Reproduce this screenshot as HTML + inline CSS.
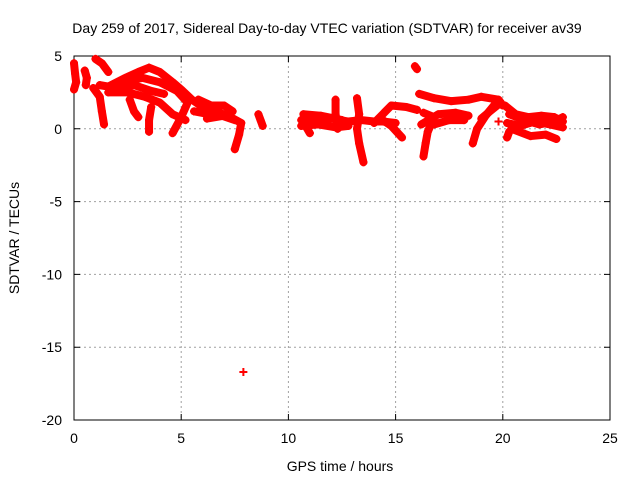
<!DOCTYPE html>
<html><head><meta charset="utf-8"><style>
body{margin:0;background:#fff;}
svg{display:block;font-family:"Liberation Sans",sans-serif;}
</style></head><body>
<svg id="chart" width="640" height="480" viewBox="0 0 640 480">
<text x="327" y="33" font-size="14" text-anchor="middle">Day 259 of 2017, Sidereal Day-to-day VTEC variation (SDTVAR) for receiver av39</text>
<g id="grid"></g>
<g id="axes"></g>
<g id="marks"></g>
<text x="340" y="471" font-size="14" text-anchor="middle">GPS time / hours</text>
<text transform="translate(19,238) rotate(-90)" font-size="14" text-anchor="middle">SDTVAR / TECUs</text>
</svg>
<script>
const xTicks=[0,5,10,15,20,25];
const yTicks=[5,0,-5,-10,-15,-20];
const tracks=[
[[0,4.5],[0.05,3.8],[0.1,3.2],[0,2.7]],
[[0.5,4.0],[0.6,3.5],[0.55,3.0]],
[[1.0,4.8],[1.3,4.5],[1.6,3.9]],
[[0.9,2.8],[1.2,2.2],[1.3,1.2],[1.4,0.3]],
[[1.6,2.9],[2.4,3.5],[3.0,3.9],[3.5,4.2],[4.0,3.9],[4.6,3.2],[5.0,2.7],[5.5,2.0],[6.2,1.3],[6.8,1.1],[7.3,0.8],[7.8,0.4],[7.7,-0.4],[7.5,-1.4]],
[[2.2,3.2],[3.2,3.5],[4.0,3.2],[4.8,2.6],[5.3,1.8],[5.0,0.8],[4.6,-0.3]],
[[1.6,2.5],[2.5,2.5],[3.3,2.2],[4.0,1.8],[4.6,1.0],[5.2,0.6]],
[[1.2,3.0],[2.0,2.8],[2.8,3.0],[3.6,2.6],[4.2,2.4]],
[[3.6,1.5],[3.5,0.6],[3.5,-0.2]],
[[2.6,2.0],[2.8,1.2],[3.0,0.8]],
[[5.8,2.0],[6.4,1.6],[7.0,1.6],[7.4,1.2],[7.0,0.9],[6.2,0.7]],
[[5.6,1.2],[6.3,1.0],[6.9,0.9],[7.5,0.6]],
[[8.6,1.0],[8.7,0.6],[8.8,0.2]],
[[7.9,-16.7]],
[[10.6,0.6],[11.2,0.5],[12.0,0.7],[12.8,0.5],[13.4,0.6],[14.0,0.5],[14.4,0.5],[15.0,0.4]],
[[10.7,1.0],[11.5,0.9],[12.5,0.6]],
[[10.6,0.2],[11.4,0.3],[12.2,0.1],[12.8,0.2]],
[[10.8,0.2],[11.0,-0.3]],
[[12.2,2.0],[12.2,1.0],[12.3,0.0]],
[[13.2,2.1],[13.3,1.0],[13.2,0],[13.3,-1.0],[13.5,-2.3]],
[[14.0,0.4],[14.4,1.0],[14.8,1.6],[15.5,1.5],[16.0,1.3]],
[[14.4,0.6],[14.8,0.2],[15.3,-0.6]],
[[15.9,4.3],[16.0,4.1]],
[[16.1,2.4],[16.8,2.1],[17.6,1.9],[18.4,2.0],[19.0,2.2],[19.8,2.0],[20.0,1.6]],
[[16.3,1.1],[16.8,0.8],[16.5,-0.2],[16.4,-1.0],[16.3,-1.9]],
[[16.2,0.3],[17.0,1.0],[17.8,1.1],[18.4,0.9]],
[[16.8,0.3],[17.5,0.6],[18.2,0.6]],
[[19.7,1.8],[19.2,0.9],[18.8,0.0],[18.6,-1.0]],
[[19.9,1.8],[19.4,1.2],[19.0,0.7]],
[[19.8,0.5]],
[[20.1,1.6],[20.6,1.0],[21.2,0.8],[21.8,0.9],[22.4,0.8],[22.8,0.5]],
[[20.2,0.4],[20.8,0.2],[21.5,0.5],[22.2,0.3],[22.8,0.1]],
[[20.3,1.0],[21.0,0.6],[21.7,0.3],[22.4,0.5],[22.8,0.8]],
[[20.4,0.0],[21.3,-0.5],[22.0,-0.4],[22.5,-0.7]],
[[20.2,-0.6],[20.3,-0.2]]
];
const L=74,R=610,T=56,B=420,xMin=0,xMax=25,yMin=-20,yMax=5;
const NS="http://www.w3.org/2000/svg";
function X(h){return L+(h-xMin)/(xMax-xMin)*(R-L);}
function Y(v){return T+(yMax-v)/(yMax-yMin)*(B-T);}
function mk(tag,attrs,parent){const e=document.createElementNS(NS,tag);for(const k in attrs)e.setAttribute(k,attrs[k]);parent.appendChild(e);return e;}
const grid=document.getElementById('grid'),axes=document.getElementById('axes'),marks=document.getElementById('marks');
xTicks.forEach(t=>{
 const x=X(t);
 if(t>xMin&&t<xMax){const g=mk('line',{x1:x,y1:T,x2:x,y2:B,stroke:'#a0a0a0','stroke-dasharray':'2,3'},grid);
 
 }
 const tk=mk('path',{d:`M${x},${B}v-6M${x},${T}v6`,stroke:'#000'},axes);
 
 
 const lb=mk('text',{x:x,y:B+23,'font-size':14,'text-anchor':'middle'},axes);lb.textContent=t;
 
 
});
yTicks.forEach(t=>{
 const y=Y(t);
 if(t>yMin&&t<yMax){const g=mk('line',{x1:L,y1:y,x2:R,y2:y,stroke:'#a0a0a0','stroke-dasharray':'2,3'},grid);
 
 }
 const tk=mk('path',{d:`M${L},${y}h6M${R},${y}h-6`,stroke:'#000'},axes);
 
 
 const lb=mk('text',{x:L-12,y:y+5,'font-size':14,'text-anchor':'end'},axes);lb.textContent=t;
 
 
});
const fr=mk('rect',{x:L,y:T,width:R-L,height:B-T,fill:'none',stroke:'#000'},axes);


tracks.forEach(tr=>{
 if(tr.length>1){const pl=mk('polyline',{points:tr.map(p=>X(p[0])+','+Y(p[1])).join(' '),fill:'none',stroke:'#f00','stroke-width':8,'stroke-linejoin':'round','stroke-linecap':'round'},marks);
 
 }
 tr.forEach(p=>{const x=X(p[0]),y=Y(p[1]);
  const m=mk('path',{d:`M${x-4},${y}h8M${x},${y-4}v8`,stroke:'#f00','stroke-width':2},marks);
  
  
 });
});
</script>
</body></html>
